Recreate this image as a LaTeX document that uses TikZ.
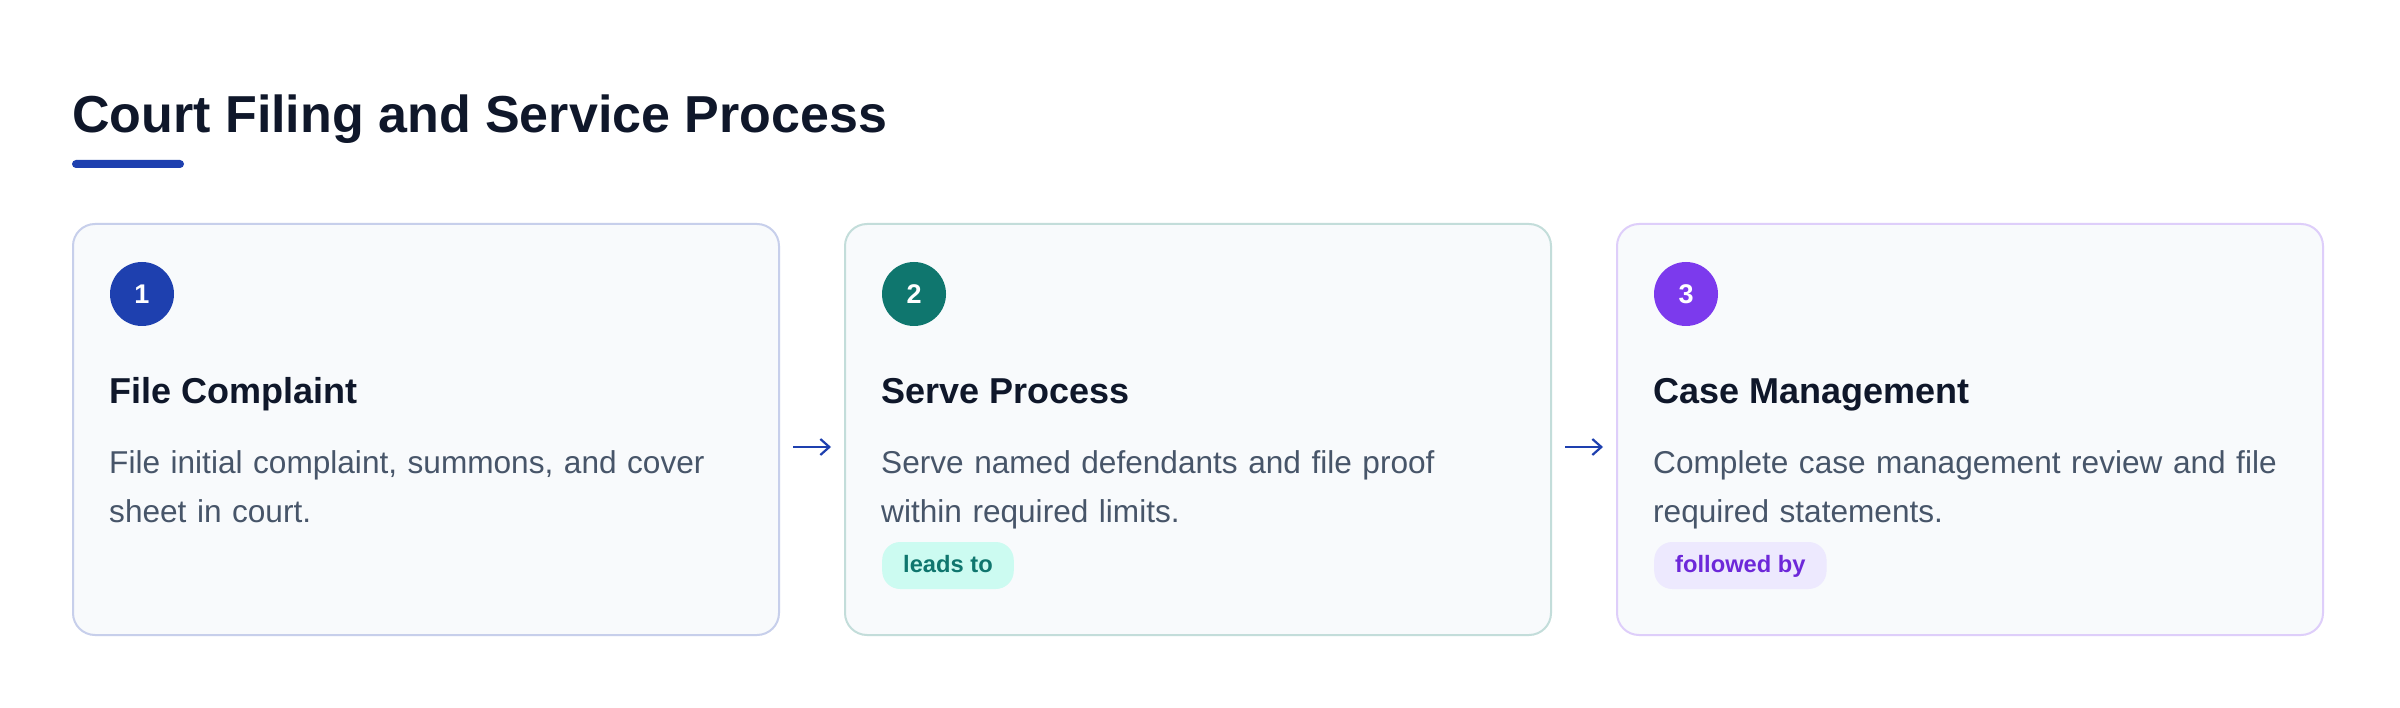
\documentclass[tikz,border=0pt]{standalone}
\usepackage{fontspec}
\setmainfont{Liberation Sans}
\usetikzlibrary{arrows.meta}
\definecolor{ink}{HTML}{0F172A}
\definecolor{bodytext}{HTML}{475569}
\definecolor{cardbg}{HTML}{F8FAFC}
\definecolor{blueA}{HTML}{1E40AF}
\definecolor{tealA}{HTML}{0F766E}
\definecolor{violetA}{HTML}{7C3AED}
\definecolor{blueB}{HTML}{C7CFEB}
\definecolor{tealB}{HTML}{C3DDDA}
\definecolor{violetB}{HTML}{DECEFA}
\definecolor{tealbadge}{HTML}{CCFBF1}
\definecolor{violetbadge}{HTML}{EDE9FE}
\definecolor{violettext}{HTML}{6D28D9}
\begin{document}
\begin{tikzpicture}[x=1pt,y=-1pt,
  card/.style={draw=#1, line width=2pt, fill=cardbg, rounded corners=22pt, minimum width=706pt, minimum height=411pt, inner sep=0pt},
  numdot/.style={circle, fill=#1, minimum size=64pt, inner sep=0pt, text=white, font=\fontsize{27}{27}\selectfont\bfseries},
  heading/.style={anchor=base west, inner sep=0pt, text=ink, font=\fontsize{36}{40}\selectfont\bfseries},
  desc/.style={anchor=base west, inner sep=0pt, text=bodytext, text width=660pt, align=left, font=\fontsize{31.6}{49}\selectfont},
  badge/.style={fill=#1, rounded corners=18pt, inner xsep=21pt, inner ysep=0pt, minimum height=47pt, text height=18pt, text depth=3.6pt, anchor=west, font=\fontsize{23.7}{24}\selectfont\bfseries},
  flow/.style={draw=blueA, line width=2.2pt, -{Straight Barb[length=9pt,width=16pt]}, shorten <=13pt, shorten >=13pt}
]
\useasboundingbox (0,0) rectangle (2400,708);
\fill[white] (0,0) rectangle (2400,708);

% title
\node[anchor=base west, inner sep=0pt, text=ink, font=\fontsize{52}{56}\selectfont\bfseries] (title) at (72,133) {Court Filing and Service Process};
\node[fill=blueA, rounded corners=4pt, minimum width=112pt, minimum height=8pt, inner sep=0pt] (rule) at (128,164) {};

% cards
\node[card=blueB] (card1) at (426,429.5) {};
\node[card=tealB] (card2) at (1198,429.5) {};
\node[card=violetB] (card3) at (1970,429.5) {};

% numbers
\node[numdot=blueA] (num1) at (142,294) {1};
\node[numdot=tealA] (num2) at (914,294) {2};
\node[numdot=violetA] (num3) at (1686,294) {3};

% headings
\node[heading] (head1) at (109,403.5) {File Complaint};
\node[heading] (head2) at (881,403.5) {Serve Process};
\node[heading] (head3) at (1653,403.5) {Case Management};

% descriptions
\node[desc] (desc1) at (109,473) {File initial complaint, summons, and cover\\sheet in court.};
\node[desc] (desc2) at (881,473) {Serve named defendants and file proof\\within required limits.};
\node[desc] (desc3) at (1653,473) {Complete case management review and file\\required statements.};

% badges
\node[badge=tealbadge, text=tealA] (badge2) at (882,565.5) {leads to};
\node[badge=violetbadge, text=violettext] (badge3) at (1654,565.5) {followed by};

% arrows
\draw[flow] ([yshift=-17.5pt]card1.east) -- ([yshift=-17.5pt]card2.west);
\draw[flow] ([yshift=-17.5pt]card2.east) -- ([yshift=-17.5pt]card3.west);
\end{tikzpicture}
\end{document}
